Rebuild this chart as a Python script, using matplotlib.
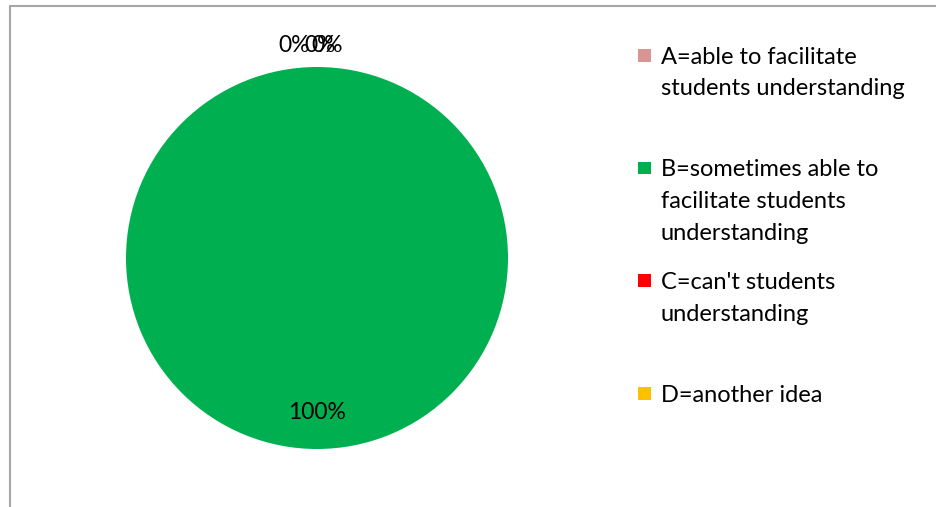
import numpy as np
import matplotlib
matplotlib.use("Agg")
import matplotlib.pyplot as plt
from matplotlib.patches import Rectangle

plt.rcParams['font.family'] = ['Lato', 'DejaVu Sans']

# survey answers (percent of respondents)
categories = ["A=able to facilitate\nstudents understanding",
              "B=sometimes able to\nfacilitate students\nunderstanding",
              "C=can't students\nunderstanding",
              "D=another idea"]
values = [0, 100, 0, 0]
colors = ["#D99594", "#00B050", "#FF0000", "#FFC000"]

fig = plt.figure(figsize=(9.36, 5.07), dpi=100)
W, H = 936, 507

# chart area frame (cut off at right and bottom)
fig.patches.append(Rectangle((9.5 / W, -0.05), 1.0, 1.05 - 5.5 / H, transform=fig.transFigure,
                             fill=False, edgecolor="#A6A6A6", linewidth=1.5))

ax = fig.add_axes([126 / W, (507 - 449) / H, 382 / W, 382 / H])
wedges, _ = ax.pie(values, colors=colors, startangle=90, counterclock=False,
                   wedgeprops=dict(linewidth=0))
ax.set_xlim(-1, 1)
ax.set_ylim(-1, 1)
ax.set_aspect("equal")
ax.axis("off")

# percentage labels; zero slices sit just outside the rim, nudged apart
total = sum(values)
zero_shift = [-23, 3, 10]
zi = 0
for w, v in zip(wedges, values):
    mid = np.deg2rad((w.theta1 + w.theta2) / 2)
    if v == 0:
        r = 1.115
        dx = zero_shift[zi]
        zi += 1
    else:
        r = 0.81
        dx = 0
    ax.annotate(f"{v / total:.0%}", (r * np.cos(mid), r * np.sin(mid)),
                xytext=(dx * 0.72, 0), textcoords="offset points",
                ha="center", va="center", fontsize=16.5, color="black",
                annotation_clip=False)

# legend entries, evenly spaced
for i, (lab, col) in enumerate(zip(categories, colors)):
    yc = 55 + i * 112.7
    fig.patches.append(Rectangle((638 / W, 1 - (yc + 6.5) / H), 12.5 / W, 12.5 / H,
                                 transform=fig.transFigure, facecolor=col, edgecolor="none"))
    fig.text(661 / W, 1 - (yc - 8.5) / H, lab, ha="left", va="top", fontsize=17,
             linespacing=1.64, transform=fig.transFigure)

fig.savefig("out.png", dpi=100)
